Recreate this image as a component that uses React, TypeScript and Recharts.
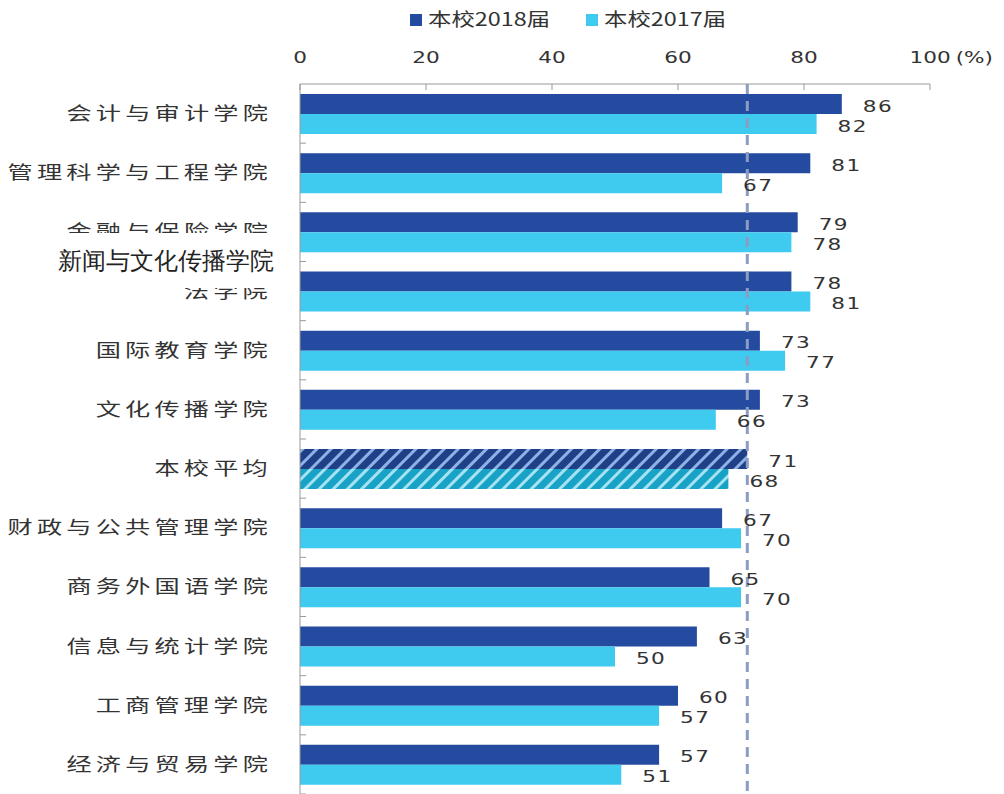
import { BarChart, Bar, XAxis, YAxis, Cell, LabelList, Legend, ReferenceLine } from "recharts"

const categories = [
  "会计与审计学院",
  "管理科学与工程学院",
  "金融与保险学院",
  "法学院",
  "国际教育学院",
  "文化传播学院",
  "本校平均",
  "财政与公共管理学院",
  "商务外国语学院",
  "信息与统计学院",
  "工商管理学院",
  "经济与贸易学院",
]
const values2018 = [86, 81, 79, 78, 73, 73, 71, 67, 65, 63, 60, 57]
const values2017 = [82, 67, 78, 81, 77, 66, 68, 70, 70, 50, 57, 51]
const xTicks = [0, 20, 40, 60, 80, 100]
const averageName = "本校平均"
const averageValue = 71
const seriesNames = ["本校2018届", "本校2017届"]

const DARK = "#244B9F"
const LIGHT = "#3FCAF0"
const TEXT = "#333"

const data = categories.map((name, i) => ({
  name,
  y2018: values2018[i],
  y2017: values2017[i],
}))

const W = 1004
const H = 794
const PLOT_TOP = 84
const HALF_STEP = (H - PLOT_TOP) / categories.length / 2

const numStyle = { fontFamily: "DejaVu Sans", fontSize: 16 }

const XTick = (props: any) => {
  const { x, y, payload } = props
  return (
    <g>
      <line x1={x} x2={x} y1={y} y2={y + 6} stroke="#999" />
      <g transform={`translate(${x},${y - 27}) scale(1.35,1)`}>
        <text x={0} y={0} dy="0.35em" textAnchor="middle" fill={TEXT} style={numStyle}>
          {payload.value}
        </text>
        {payload.value === 100 && (
          <text x={19} y={0} dy="0.35em" textAnchor="start" fill={TEXT} style={numStyle}>
            (%)
          </text>
        )}
      </g>
    </g>
  )
}

const YTick = (props: any) => {
  const { y, payload } = props
  return (
    <g>
      <line x1={300} x2={306} y1={y + HALF_STEP} y2={y + HALF_STEP} stroke="#999" />
      <g transform={`translate(272,${y}) scale(1.4,1)`}>
        <text
          x={0}
          y={0}
          dy="0.36em"
          textAnchor="end"
          fill="#333"
          style={{ letterSpacing: "3px", fontFamily: "Noto Sans CJK SC", fontSize: 18, fontWeight: 400 }}
        >
          {payload.value}
        </text>
      </g>
    </g>
  )
}

const valueLabel = (p: any) => {
  const { x, y, width, height, value } = p
  return (
    <g transform={`translate(${x + width + 21},${y + height / 2 + 2}) scale(1.35,1)`}>
      <text x={0} y={0} dy="0.35em" fill={TEXT} style={{ ...numStyle, letterSpacing: "1px" }}>
        {value}
      </text>
    </g>
  )
}

const LegendContent = () => {
  const items = [
    { x: 410, color: DARK, label: seriesNames[0] },
    { x: 586, color: LIGHT, label: seriesNames[1] },
  ]
  return (
    <svg width={W} height={40} style={{ display: "block" }}>
      {items.map((it) => (
        <g key={it.label}>
          <rect x={it.x} y={14} width={12} height={12} fill={it.color} />
          <g transform={`translate(${it.x + 18},20) scale(1.3,1)`}>
            <text
              x={0}
              y={0}
              dy="0.36em"
              fill={TEXT}
              style={{ fontFamily: "Noto Sans CJK SC", fontSize: 18 }}
            >
              {it.label}
            </text>
          </g>
        </g>
      ))}
    </svg>
  )
}

export default function App() {
  return (
    <div style={{ position: "absolute", left: 0, top: 0, width: W, height: H, background: "#fff" }}>
      <svg width={0} height={0} style={{ position: "absolute" }}>
        <defs>
          <pattern id="hatchDark" patternUnits="userSpaceOnUse" width={10} height={10} patternTransform="rotate(45)">
            <rect width={10} height={10} fill="#1F3F86" />
            <rect width={3} height={10} fill="#8DB2E8" />
          </pattern>
          <pattern id="hatchLight" patternUnits="userSpaceOnUse" width={10} height={10} patternTransform="rotate(45)">
            <rect width={10} height={10} fill="#18A2C6" />
            <rect width={3} height={10} fill="#A4E2F4" />
          </pattern>
        </defs>
      </svg>
      <BarChart
        width={W}
        height={H}
        data={data}
        layout="vertical"
        margin={{ top: 0, right: 74, bottom: 0, left: 0 }}
        barCategoryGap={10}
        barGap={0}
      >
        <Legend verticalAlign="top" height={40} content={<LegendContent />} />
        <XAxis
          type="number"
          orientation="top"
          domain={[0, 100]}
          ticks={xTicks}
          height={44}
          tickSize={0}
          tickMargin={0}
          tickLine={false}
          axisLine={{ stroke: "#999" }}
          tick={<XTick />}
        />
        <YAxis
          type="category"
          dataKey="name"
          width={300}
          tickLine={false}
          tickSize={0}
          axisLine={{ stroke: "#999" }}
          tick={<YTick />}
          interval={0}
        />
        <Bar dataKey="y2018" name={seriesNames[0]} fill={DARK} isAnimationActive={false}>
          {data.map((d) => (
            <Cell key={d.name} fill={d.name === averageName ? "url(#hatchDark)" : DARK} />
          ))}
          <LabelList dataKey="y2018" content={valueLabel} />
        </Bar>
        <Bar dataKey="y2017" name={seriesNames[1]} fill={LIGHT} isAnimationActive={false}>
          {data.map((d) => (
            <Cell key={d.name} fill={d.name === averageName ? "url(#hatchLight)" : LIGHT} />
          ))}
          <LabelList dataKey="y2017" content={valueLabel} />
        </Bar>
        <ReferenceLine x={averageValue} stroke="#8C9CC2" strokeWidth={3} strokeDasharray="10 7" />
      </BarChart>
      <div
        style={{
          position: "absolute",
          left: 30,
          top: 233,
          width: 244,
          height: 55,
          background: "#fff",
          display: "flex",
          alignItems: "center",
          justifyContent: "flex-end",
          fontFamily: "serif",
          fontSize: 24,
          color: "#222",
        }}
      >
        新闻与文化传播学院
      </div>
    </div>
  )
}
